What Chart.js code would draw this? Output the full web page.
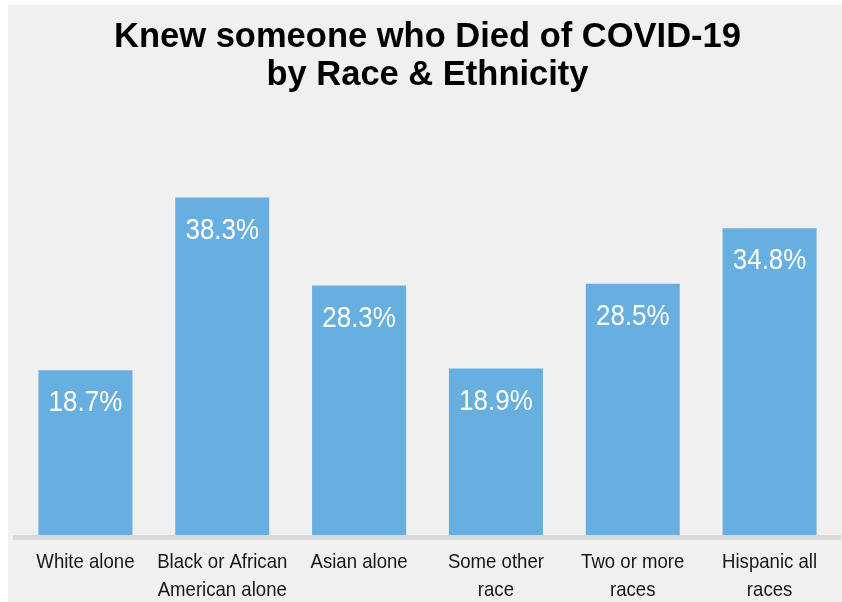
<!DOCTYPE html>
<html>
<head>
<meta charset="utf-8">
<script src="https://cdn.jsdelivr.net/npm/chart.js@4"></script>
<style>
  html, body { margin: 0; padding: 0; background: #ffffff; }
  #wrap { position: absolute; left: 8px; top: 5px; width: 834px; height: 597px; background: #f0f0f0; }
</style>
</head>
<body>
<div id="wrap"><canvas id="chart" width="834" height="597"></canvas></div>
<script>
const categories = [
  ["White alone"],
  ["Black or African", "American alone"],
  ["Asian alone"],
  ["Some other", "race"],
  ["Two or more", "races"],
  ["Hispanic all", "races"],
];
const percentValues = [18.7, 38.3, 28.3, 18.9, 28.5, 34.8];
const titleLines = ["Knew someone who Died of COVID-19", "by Race & Ethnicity"];

const sansFont = "'Liberation Sans', Arial, sans-serif";

// the reference uses a narrow face; squeeze Liberation Sans to get close
function narrowText(ctx, text, x, y, squeeze) {
  ctx.save();
  ctx.translate(x, y);
  ctx.scale(squeeze, 1);
  ctx.fillText(text, 0, 0);
  ctx.restore();
}

// white value labels inside the top of each bar
const valueLabels = {
  id: "valueLabels",
  afterDatasetsDraw(chart) {
    const ctx = chart.ctx;
    const meta = chart.getDatasetMeta(0);
    ctx.save();
    ctx.fillStyle = "#ffffff";
    ctx.font = "29.5px " + sansFont;
    ctx.textAlign = "center";
    ctx.textBaseline = "middle";
    meta.data.forEach((bar, i) => {
      narrowText(ctx, percentValues[i].toFixed(1) + "%", bar.x, bar.y + 33, 0.88);
    });
    ctx.restore();
  },
};

// thick grey baseline and the category names under it
const baseAxis = {
  id: "baseAxis",
  afterDatasetsDraw(chart) {
    const area = chart.chartArea;
    const xScale = chart.scales.x;
    const ctx = chart.ctx;
    ctx.save();
    ctx.fillStyle = "#d9d9d9";
    ctx.fillRect(area.left - 4, area.bottom, area.right - area.left + 7, 5);
    ctx.fillStyle = "#161616";
    ctx.font = "21px " + sansFont;
    ctx.textAlign = "center";
    ctx.textBaseline = "middle";
    categories.forEach((lines, i) => {
      const x = xScale.getPixelForTick(i);
      lines.forEach((line, j) => {
        narrowText(ctx, line, x, area.bottom + 27 + j * 28, 0.885);
      });
    });
    ctx.restore();
  },
};

new Chart(document.getElementById("chart"), {
  type: "bar",
  data: {
    labels: categories,
    datasets: [
      {
        data: percentValues,
        backgroundColor: "#67afe0",
        borderWidth: 0,
        categoryPercentage: 1,
        barPercentage: 0.687,
      },
    ],
  },
  options: {
    responsive: false,
    animation: false,
    layout: { padding: { left: 9, right: 4, top: 0, bottom: 67 } },
    plugins: {
      legend: { display: false },
      tooltip: { enabled: false },
      title: {
        display: true,
        text: titleLines,
        color: "#000000",
        font: { family: sansFont, size: 34.5, weight: "bold", lineHeight: "38px" },
        padding: { top: 13, bottom: 18 },
      },
    },
    scales: {
      x: {
        grid: { display: false, drawTicks: false },
        border: { display: false },
        ticks: { display: false },
      },
      y: {
        display: false,
        min: 0,
        max: 48,
      },
    },
  },
  plugins: [valueLabels, baseAxis],
});
</script>
</body>
</html>
